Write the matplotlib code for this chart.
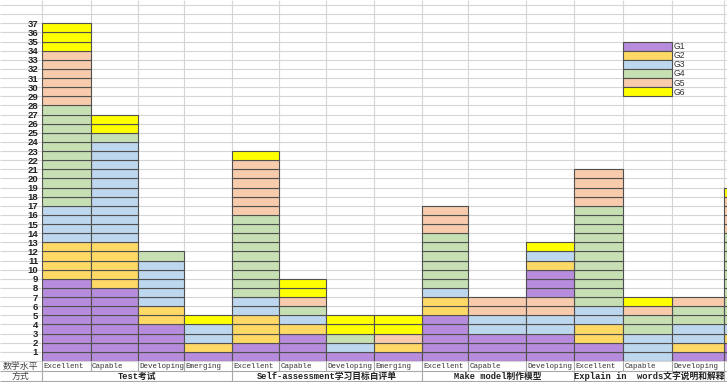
import matplotlib
matplotlib.use('Agg')
import matplotlib.pyplot as plt

# ---------------- data ----------------
categories = ['Excellent', 'Capable', 'Developing', 'Emerging',
              'Excellent', 'Capable', 'Developing', 'Emerging',
              'Excellent', 'Capable', 'Developing',
              'Excellent', 'Capable', 'Developing', '']
groups = ['Test考试', 'Self-assessment学习目标自评单', 'Make model制作模型',
          'Explain in  words文字说明和解释']
group_first_col = [0, 4, 8, 11]
group_last_col = [3, 7, 10, 13]
series_names = ['G1', 'G2', 'G3', 'G4', 'G5', 'G6']

g1 = [9, 8, 4, 1, 2, 3, 1, 1, 5, 3, 3, 2, 0, 1, 2]
g2 = [4, 5, 2, 1, 3, 1, 0, 1, 2, 0, 0, 2, 0, 1, 1]
g3 = [4, 11, 5, 2, 2, 1, 1, 0, 1, 2, 2, 2, 3, 2, 1]
g4 = [11, 1, 1, 0, 9, 1, 1, 0, 6, 0, 0, 11, 2, 2, 10]
g5 = [6, 0, 0, 0, 6, 1, 0, 1, 3, 2, 2, 4, 1, 1, 4]
# second (upper) blocks that appear above G5 in some columns
g1_upper = [0, 0, 0, 0, 0, 0, 0, 0, 0, 0, 3, 0, 0, 0, 0]
g2_upper = [0, 0, 0, 0, 0, 0, 0, 0, 0, 0, 1, 0, 0, 0, 0]
g3_upper = [0, 0, 0, 0, 0, 0, 0, 0, 0, 0, 1, 0, 0, 0, 0]
g6 = [3, 2, 0, 1, 1, 2, 2, 2, 0, 0, 1, 0, 1, 0, 1]

y_tick_values = list(range(1, 38))
row_header = '数学水平'
col_header = '方式'

# ---------------- styles / layout ----------------
colors = {'G1': '#B88CDC', 'G2': '#FFD966', 'G3': '#BDD7EE',
          'G4': '#C6E0B4', 'G5': '#F8CBAD', 'G6': '#FFFF00'}
W, H = 727, 382
ROW = 9.127
col_edges = [41.7, 90.7, 137.7, 184.3, 231.7, 279.3, 326.0, 374.0, 421.7,
             468.0, 525.7, 574.0, 623.0, 672.3, 724.5, 772.0]
grid_c = '#d6d6d6'
head_c = '#a8a8a8'
edge_c = '#505050'

plt.rcParams['font.family'] = ['Liberation Mono', 'Noto Sans CJK SC']

fig = plt.figure(figsize=(W / 100, H / 100), dpi=100)
fig.patch.set_facecolor('white')
ax = fig.add_axes([41.7 / W, 21 / H, (W - 41.7) / W, 361 / H])
ax.set_xlim(41.7, W)
top = 361 / ROW
ax.set_ylim(0, top)
for s in ax.spines.values():
    s.set_visible(False)
ax.set_xticks([])

# gridlines (spreadsheet cells)
ax.hlines(range(0, 40), 0, W, color=grid_c, lw=0.8, zorder=0, clip_on=False)
ax.vlines(col_edges[:-1], 0, top, color=grid_c, lw=0.8, zorder=0, clip_on=False)

# bars: each unit is one cell
layers = [('G1', g1), ('G2', g2), ('G3', g3), ('G4', g4), ('G5', g5),
          ('G1', g1_upper), ('G2', g2_upper), ('G3', g3_upper), ('G6', g6)]
bottoms = [0] * len(categories)
for name, vals in layers:
    for i, v in enumerate(vals):
        left = col_edges[i]
        width = col_edges[i + 1] - col_edges[i]
        for k in range(v):
            ax.bar(left, 1, width=width, bottom=bottoms[i] + k, align='edge',
                   color=colors[name], edgecolor=edge_c, linewidth=0.8, zorder=2)
        bottoms[i] += v

# legend drawn as cells
leg_left = col_edges[12]
leg_w = col_edges[13] - col_edges[12]
for j, name in enumerate(series_names):
    yb = 34 - j
    ax.bar(leg_left, 1, width=leg_w, bottom=yb, align='edge',
           color=colors[name], edgecolor=edge_c, linewidth=0.8, zorder=2)
    ax.text(col_edges[13] + 1.5, yb + 0.45, name, ha='left', va='center',
            fontsize=6.2, color='#333333', family=['Liberation Sans'])

# y tick labels
ax.set_yticks(y_tick_values)
ax.set_yticklabels([str(v) for v in y_tick_values], fontsize=6.8,
                   fontweight='bold', family=['Liberation Sans'], color='#222222')
ax.tick_params(axis='y', length=0, pad=2.5)

# header rows
r1 = -(371 - 361) / ROW
r2 = -(381 - 361) / ROW
ax.hlines([r1, r2], 0, W, color=head_c, lw=0.8, clip_on=False, zorder=1)
ax.vlines([41.7] + col_edges[1:-1], r1, 0, color=head_c, lw=0.8, clip_on=False)
ax.vlines([41.7, col_edges[4], col_edges[8], col_edges[11], col_edges[14]], r2, r1,
          color=head_c, lw=0.8, clip_on=False)

ax.text(20.8, r1 / 2, row_header, ha='center', va='center', fontsize=6.4,
        color='#444444', family=['Noto Sans CJK SC'], clip_on=False)
ax.text(20.8, (r1 + r2) / 2, col_header, ha='center', va='center', fontsize=6.4,
        color='#444444', family=['Noto Sans CJK SC'], clip_on=False)
for i, cat in enumerate(categories):
    if cat:
        ax.text(col_edges[i] + 1.2, r1 / 2, cat, ha='left', va='center',
                fontsize=5.4, color='#333333', clip_on=False)
for g, a, b in zip(groups, group_first_col, group_last_col):
    xc = (col_edges[a] + col_edges[b + 1]) / 2
    ax.text(xc, (r1 + r2) / 2, g, ha='center', va='center', fontsize=6.3,
            fontweight='bold', color='#222222', clip_on=False)

fig.savefig('out.png', dpi=100)
